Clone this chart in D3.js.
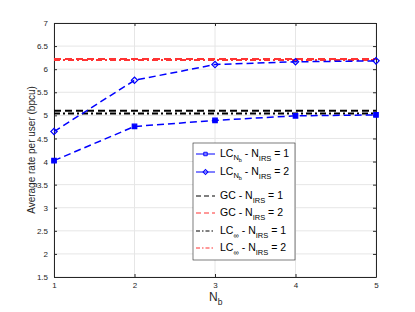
<!DOCTYPE html>
<html>
<head>
<meta charset="utf-8">
<script src="https://cdn.jsdelivr.net/npm/d3@7"></script>
<style>
  body { margin: 0; background: #fff; }
  svg text { font-family: "Liberation Sans", Arial, sans-serif; }
</style>
</head>
<body>
<div id="chart"></div>
<script>
// data
var nb = [1, 2, 3, 4, 5];
var lcNb1 = [4.02, 4.76, 4.89, 4.99, 5.01];
var lcNb2 = [4.65, 5.76, 6.10, 6.16, 6.18];
var gc1 = 5.10;
var gc2 = 6.22;
var lcInf1 = 5.04;
var lcInf2 = 6.20;
var yTicks = [1.5, 2, 2.5, 3, 3.5, 4, 4.5, 5, 5.5, 6, 6.5, 7];

var svgWidth = 415, svgHeight = 312;
var margin = {top: 23, right: 39, bottom: 35, left: 54};
var width = svgWidth - margin.left - margin.right;
var height = svgHeight - margin.top - margin.bottom;

var svg = d3.select("#chart").append("svg")
    .attr("width", svgWidth)
    .attr("height", svgHeight);

var g = svg.append("g")
    .attr("transform", `translate(${margin.left}, ${margin.top})`);

var x = d3.scaleLinear().domain([1, 5]).range([0, width]);
var y = d3.scaleLinear().domain([1.5, 7]).range([height, 0]);

// grid
g.selectAll("line.gx").data(nb).enter().append("line")
    .attr("x1", d => x(d)).attr("x2", d => x(d))
    .attr("y1", 0).attr("y2", height)
    .attr("stroke", "#e6e6e6");
g.selectAll("line.gy").data(yTicks).enter().append("line")
    .attr("y1", d => y(d)).attr("y2", d => y(d))
    .attr("x1", 0).attr("x2", width)
    .attr("stroke", "#e6e6e6");

// axes
var tickFmt = d3.format("~g");
var axisColor = "#262626";
function styleAxis(sel) {
  sel.selectAll("path").attr("stroke", axisColor);
  sel.selectAll("line").attr("stroke", axisColor);
  sel.selectAll("text").attr("fill", axisColor).style("font-size", "8px");
}
g.append("g").attr("transform", `translate(0, ${height})`)
    .call(d3.axisBottom(x).tickValues(nb).tickFormat(tickFmt).tickSizeInner(-3).tickSizeOuter(0).tickPadding(5))
    .call(styleAxis);
g.append("g")
    .call(d3.axisTop(x).tickValues(nb).tickFormat("").tickSizeInner(-3).tickSizeOuter(0))
    .call(styleAxis);
g.append("g")
    .call(d3.axisLeft(y).tickValues(yTicks).tickFormat(tickFmt).tickSizeInner(-3).tickSizeOuter(0).tickPadding(6))
    .call(styleAxis);
g.append("g").attr("transform", `translate(${width}, 0)`)
    .call(d3.axisRight(y).tickValues(yTicks).tickFormat("").tickSizeInner(-3).tickSizeOuter(0))
    .call(styleAxis);

// horizontal reference lines
var hlines = [
  {v: gc1, color: "#000", dash: "7,4"},
  {v: lcInf1, color: "#000", dash: "6,3,2,3"},
  {v: gc2, color: "#ff3333", dash: "7,4"},
  {v: lcInf2, color: "#ff3333", dash: "6,3,2,3"}
];
g.selectAll("line.h").data(hlines).enter().append("line")
    .attr("x1", 0).attr("x2", width)
    .attr("y1", d => y(d.v)).attr("y2", d => y(d.v))
    .attr("stroke", d => d.color)
    .attr("stroke-width", 2)
    .attr("stroke-dasharray", d => d.dash);

// blue curves
var line = d3.line().x((d, i) => x(nb[i])).y(d => y(d));
[lcNb1, lcNb2].forEach(function(vals, k) {
  g.append("path").datum(vals)
      .attr("d", line)
      .attr("fill", "none")
      .attr("stroke", "#0000ff")
      .attr("stroke-width", 1.5)
      .attr("stroke-dasharray", "7,4");
  g.selectAll("path.m" + k).data(vals).enter().append("path")
      .attr("transform", (d, i) => `translate(${x(nb[i])}, ${y(d)}) rotate(${k === 0 ? 0 : 45})`)
      .attr("d", d3.symbol().type(d3.symbolSquare).size(k === 0 ? 20 : 20))
      .attr("fill", k === 0 ? "#0000ff" : "none")
      .attr("stroke", "#0000ff")
      .attr("stroke-width", 1.2);
});

// axis labels
svg.append("text")
    .attr("transform", "rotate(-90)")
    .attr("x", -(margin.top + height / 2))
    .attr("y", 35)
    .attr("text-anchor", "middle")
    .attr("fill", axisColor)
    .style("font-size", "10px")
    .text("Average rate per user (bpcu)");

var xl = svg.append("text")
    .attr("x", margin.left + width / 2 - 6)
    .attr("y", 301)
    .attr("fill", axisColor)
    .style("font-size", "12px");
xl.append("tspan").text("N");
xl.append("tspan").attr("dy", 4).style("font-size", "8.5px").text("b");

// legend
var legend = svg.append("g").attr("transform", "translate(193, 143)");
legend.append("rect")
    .attr("width", 102).attr("height", 117)
    .attr("fill", "#fff")
    .attr("stroke", "#262626")
    .attr("stroke-width", 0.6);

var legItems = [
  {main: "LC", sub: "N", color: "#0000ff", marker: "square", y: 11},
  {main: "LC", sub: "N", color: "#0000ff", marker: "diamond", irs: 2, y: 29},
  {main: "GC", color: "#000", dash: "5,3", y: 53},
  {main: "GC", color: "#ff3333", dash: "5,3", irs: 2, y: 70},
  {main: "LC", sub: "\u221e", color: "#000", dash: "4,2,1.5,2", y: 88},
  {main: "LC", sub: "\u221e", color: "#ff3333", dash: "4,2,1.5,2", irs: 2, y: 105}
];

legItems.forEach(function(it) {
  var row = legend.append("g").attr("transform", `translate(0, ${it.y})`);
  row.append("line")
      .attr("x1", 3).attr("x2", 22)
      .attr("stroke", it.color)
      .attr("stroke-width", it.marker ? 1 : 1.2)
      .attr("stroke-dasharray", it.marker ? null : it.dash);
  if (it.marker) {
    row.append("path")
        .attr("transform", `translate(12.5, 0) rotate(${it.marker === "square" ? 0 : 45})`)
        .attr("d", d3.symbol().type(d3.symbolSquare).size(12))
        .attr("fill", "none")
        .attr("stroke", it.color)
        .attr("stroke-width", 1);
  }
  var t = row.append("text")
      .attr("x", 27).attr("y", 3)
      .attr("fill", "#000")
      .style("font-size", "10.5px");
  t.append("tspan").text(it.main);
  if (it.sub === "N") {
    t.append("tspan").attr("dy", 3).style("font-size", "7.5px").text("N");
    t.append("tspan").attr("dy", 2).style("font-size", "5.5px").text("b");
    t.append("tspan").attr("dy", -5).text(" - N");
  } else if (it.sub) {
    t.append("tspan").attr("dy", 4).style("font-size", "7.5px").text(it.sub);
    t.append("tspan").attr("dy", -4).text(" - N");
  } else {
    t.append("tspan").text(" - N");
  }
  t.append("tspan").attr("dy", 4).style("font-size", "7.5px").text("IRS");
  t.append("tspan").attr("dy", -4).text(" = " + (it.irs || 1));
});
</script>
</body>
</html>
